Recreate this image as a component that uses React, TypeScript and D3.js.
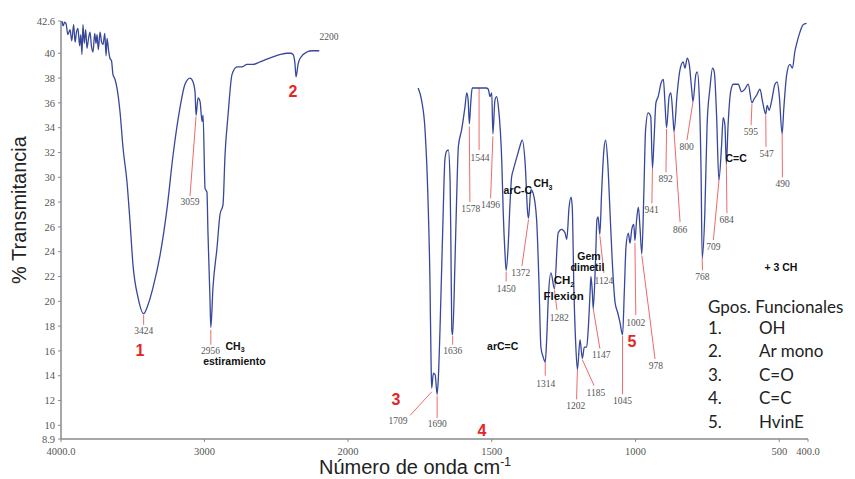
import React from "react";
import * as d3 from "d3";

// ---------- DATA ----------
// Spectrum segment 1 (4000 - 2200 cm-1)
const leftWn = [3993, 3985, 3975, 3965, 3952, 3937, 3925, 3912, 3902, 3892, 3882, 3870, 3862, 3854, 3847, 3838, 3828, 3819, 3808, 3798, 3788, 3777, 3765, 3756, 3749, 3740, 3728, 3717, 3707, 3695, 3686, 3679, 3668, 3659, 3648, 3638, 3624, 3610, 3589, 3568, 3540, 3519, 3498, 3463, 3424, 3394, 3359, 3310, 3261, 3219, 3171, 3136, 3101, 3080, 3066, 3059, 3045, 3031, 3017, 3010, 2996, 2983, 2976, 2962, 2956, 2941, 2913, 2892, 2871, 2857, 2836, 2808, 2773, 2740, 2704, 2662, 2613, 2570, 2523, 2470, 2425, 2400, 2383, 2370, 2362, 2348, 2334, 2286, 2250, 2216, 2200];
const leftT = [42.6, 42.2, 42.5, 42.4, 41.5, 41.9, 41.0, 42.3, 40.9, 41.7, 42.0, 40.6, 41.5, 39.9, 42.3, 40.8, 41.9, 40.4, 41.2, 41.7, 40.6, 40.1, 41.6, 40.8, 41.5, 40.3, 41.7, 40.9, 40.7, 41.6, 39.8, 41.2, 40.2, 39.6, 39.4, 38.3, 37.9, 37.2, 35.3, 32.4, 29.6, 26.4, 22.9, 20.3, 19.0, 19.7, 21.1, 23.7, 27.5, 31.8, 35.6, 37.5, 38.0, 37.7, 36.9, 35.0, 36.4, 36.1, 34.5, 35.0, 29.1, 28.8, 25.6, 20.3, 17.9, 21.1, 24.3, 27.0, 27.8, 31.8, 35.0, 38.3, 38.9, 38.9, 39.1, 39.1, 39.3, 39.5, 39.7, 39.9, 40.0, 40.0, 39.9, 39.2, 38.1, 39.1, 39.6, 40.1, 40.2, 40.2, 40.2];

// Spectrum segment 2 (1756 - 405 cm-1)
const rightWn = [1756, 1744, 1732, 1722, 1715, 1711, 1709, 1703, 1697, 1690, 1686, 1680, 1669, 1663, 1657, 1651, 1645, 1642, 1639, 1636, 1628, 1622, 1616, 1605, 1593, 1587, 1582, 1578, 1573, 1568, 1520, 1512, 1506, 1500, 1496, 1489, 1483, 1477, 1465, 1460, 1454, 1450, 1443, 1437, 1431, 1425, 1413, 1402, 1394, 1384, 1375, 1372, 1364, 1356, 1344, 1336, 1329, 1321, 1314, 1309, 1303, 1294, 1282, 1269, 1257, 1245, 1239, 1231, 1224, 1220, 1214, 1208, 1202, 1193, 1185, 1178, 1170, 1164, 1158, 1155, 1150, 1147, 1139, 1134, 1130, 1124, 1118, 1110, 1104, 1097, 1089, 1081, 1071, 1062, 1054, 1045, 1039, 1033, 1025, 1019, 1013, 1006, 1002, 996, 990, 984, 978, 971, 965, 956, 947, 941, 935, 929, 921, 911, 903, 898, 892, 883, 877, 869, 866, 855, 845, 834, 828, 820, 813, 805, 800, 790, 785, 778, 772, 768, 759, 751, 741, 732, 726, 718, 710, 701, 695, 689, 684, 678, 669, 660, 643, 631, 620, 608, 595, 588, 579, 567, 558, 547, 542, 535, 527, 515, 507, 500, 490, 484, 474, 463, 454, 446, 438, 428, 417, 405];
const rightT = [37.2, 36.2, 33.8, 28.4, 21.7, 15.0, 13.0, 14.2, 14.1, 12.5, 13.7, 17.7, 27.1, 31.4, 32.1, 32.2, 29.8, 24.4, 17.7, 17.3, 23.1, 28.4, 32.5, 33.8, 35.7, 36.8, 36.2, 34.3, 36.0, 37.2, 37.2, 37.1, 36.5, 36.8, 33.5, 36.2, 36.5, 35.7, 31.2, 27.1, 23.9, 22.5, 24.4, 27.6, 30.0, 30.6, 31.6, 32.5, 33.0, 31.2, 27.1, 26.7, 29.0, 28.7, 26.6, 21.7, 16.3, 15.5, 15.1, 16.9, 20.4, 22.3, 21.0, 25.5, 25.8, 25.5, 25.0, 27.6, 28.4, 27.6, 20.7, 16.6, 14.5, 16.9, 15.4, 16.3, 16.3, 17.9, 20.7, 22.0, 20.7, 19.4, 23.3, 26.6, 26.8, 25.4, 28.7, 32.2, 33.0, 31.4, 27.4, 23.3, 19.9, 19.1, 18.3, 17.3, 20.7, 24.4, 25.5, 24.7, 25.8, 26.2, 24.9, 26.6, 27.6, 25.8, 23.8, 28.7, 33.8, 35.2, 34.9, 30.7, 33.3, 36.0, 36.5, 37.6, 37.9, 36.2, 34.0, 36.5, 36.8, 34.6, 33.7, 36.8, 38.7, 39.3, 38.8, 39.6, 39.1, 37.2, 36.1, 38.3, 38.5, 36.4, 30.5, 23.5, 27.0, 34.2, 37.2, 38.8, 38.5, 35.0, 29.8, 32.4, 34.8, 34.2, 31.1, 34.2, 36.9, 37.5, 37.5, 36.9, 37.1, 37.5, 36.0, 36.3, 36.6, 37.1, 36.1, 35.1, 35.8, 35.4, 36.1, 37.5, 37.7, 36.6, 33.5, 35.6, 38.3, 39.1, 38.8, 40.1, 40.9, 41.7, 42.3, 42.4];

// Axis ticks
const yTicks = [42.6, 40, 38, 36, 34, 32, 30, 28, 26, 24, 22, 20, 18, 16, 14, 12, 10, 8.9];
const yTickLabels = ["42.6", "40", "38", "36", "34", "32", "30", "28", "26", "24", "22", "20", "18", "16", "14", "12", "10", "8.9"];
const xTicks = [4000, 3000, 2000, 1500, 1000, 500, 400];
const xTickLabels = ["4000.0", "3000", "2000", "1500", "1000", "500", "400.0"];

// Peak annotations: label, peak wn, peak T, line end wn, line end T, label wn, label T
const peakLabels = ["3424", "3059", "2956", "1709", "1690", "1636", "1578", "1544", "1496", "1450", "1372", "1314", "1282", "1202", "1185", "1147", "1124", "1045", "1002", "978", "941", "892", "866", "800", "768", "709", "684", "595", "547", "490"];
const peakWn = [3424, 3059, 2956, 1709, 1690, 1636, 1578, 1544, 1496, 1450, 1372, 1314, 1282, 1202, 1185, 1147, 1124, 1045, 1002, 978, 941, 892, 866, 800, 768, 709, 684, 595, 547, 490];
const peakT = [18.9, 34.9, 17.7, 12.7, 12.4, 17.2, 34.1, 37.2, 33.3, 22.4, 26.6, 15.1, 20.9, 14.5, 15.3, 19.4, 25.3, 17.2, 24.7, 23.7, 30.7, 33.9, 33.7, 36.1, 23.5, 29.9, 31.1, 35.9, 35.0, 33.5];
const lineEndWn = [3424, 3101, 2956, 1784, 1690, 1636, 1576, 1544, 1504, 1450, 1395, 1314, 1273, 1205, 1144, 1124, 1110, 1045, 999, 932, 943, 894, 845, 821, 767, 729, 682, 598, 546, 489];
const lineEndT = [18.1, 28.5, 16.5, 10.8, 10.6, 16.5, 28.0, 32.2, 28.3, 21.6, 22.85, 14.0, 19.3, 12.1, 13.2, 16.2, 22.3, 12.5, 18.9, 15.35, 27.9, 30.4, 26.4, 33.0, 22.5, 24.95, 27.1, 34.2, 32.45, 30.0];
const labelWn = [3424, 3101, 2958, 1826, 1690, 1636, 1573, 1541, 1504, 1450, 1399, 1312, 1265, 1208, 1138, 1119, 1110, 1045, 999, 929, 944, 895, 845, 822, 767, 729, 683, 599, 544, 488];
const labelT = [17.6, 28.0, 16.05, 10.4, 10.1, 16.0, 27.45, 31.6, 27.8, 21.0, 22.3, 13.4, 18.7, 11.6, 12.6, 15.7, 21.7, 12.0, 18.3, 14.8, 27.4, 29.9, 25.8, 32.45, 21.96, 24.4, 26.6, 33.66, 31.9, 29.5];

// End-of-range label
const endLabel = "2200";
const endLabelWn = 2132;
const endLabelT = 41.3;

// Red group numbers
const groupMarks = ["1", "2", "3", "4", "5"];
const groupMarkWn = [3449, 2383, 1833, 1534, 1012];
const groupMarkT = [16.08, 36.96, 12.13, 9.63, 16.8];

// Bold assignment notes: main text, subscript, wn, T
const noteText = ["CH", "estiramiento", "arC-C", "CH", "arC=C", "CH", "Flexión", "Gem", "dimetil", "C=C", "+ 3 CH"];
const noteSub = ["3", "", "", "3", "", "2", "", "", "", "", ""];
const noteWn = [2787, 2792, 1409, 1322, 1462, 1249, 1250, 1162, 1167, 650, 494];
const noteT = [16.4, 15.2, 28.98, 29.5, 16.34, 21.7, 20.4, 23.65, 22.74, 31.53, 22.74];

// Legend
const legendTitle = "Gpos. Funcionales";
const legendNums = ["1.", "2.", "3.", "4.", "5."];
const legendNames = ["OH", "Ar mono", "C=O", "C=C", "HvinE"];

// ---------- CHART ----------
const W = 855;
const H = 479;
const x = d3.scaleLinear().domain([4000, 2000, 400]).range([61, 348, 808]);
const y = d3.scaleLinear().domain([8.9, 42.6]).range([439, 21]);

const SERIF = "'Liberation Serif', 'DejaVu Serif', serif";
const SANS = "'Liberation Sans', Arial, sans-serif";
const LEG = "Lato, 'Open Sans', sans-serif";
const BLUE = "#37479c";
const RED = "#e3261f";
const RED_LINE = "#ee6b6b";
const GRAY = "#555";

export default function App() {
  const line = d3
    .line<[number, number]>()
    .x((d) => x(d[0]))
    .y((d) => y(d[1]))
    .curve(d3.curveMonotoneX);
  const left = leftWn.map((w, i) => [w, leftT[i]] as [number, number]);
  const right = rightWn.map((w, i) => [w, rightT[i]] as [number, number]);

  return (
    <svg
      width={W}
      height={H}
      style={{ position: "absolute", left: 0, top: 0, background: "#fff" }}
    >
      <rect x={0} y={0} width={W} height={H} fill="#fff" />
      {/* axes */}
      <line x1={x(4000)} x2={x(4000)} y1={y(42.6)} y2={y(8.9)} stroke="#8a8a8a" strokeWidth={1.5} />
      <line x1={x(4000)} x2={x(400)} y1={y(8.9)} y2={y(8.9)} stroke="#8a8a8a" strokeWidth={1.5} />
      {yTicks.map((t, i) => (
        <g key={"yt" + i}>
          <line x1={x(4000) - 3} x2={x(4000)} y1={y(t)} y2={y(t)} stroke="#8a8a8a" strokeWidth={1} />
          <text x={x(4000) - 6} y={y(t)} dy="0.35em" textAnchor="end" fontFamily={SERIF} fontSize={10.5} fill={GRAY}>
            {yTickLabels[i]}
          </text>
        </g>
      ))}
      {xTicks.map((t, i) => (
        <g key={"xt" + i}>
          <line x1={x(t)} x2={x(t)} y1={y(8.9)} y2={y(8.9) + 3} stroke="#8a8a8a" strokeWidth={1} />
          <text x={x(t)} y={y(8.9) + 16} textAnchor="middle" fontFamily={SERIF} fontSize={10.5} fill={GRAY}>
            {xTickLabels[i]}
          </text>
        </g>
      ))}
      {/* axis titles */}
      <text
        transform={`translate(26, ${(y(42.6) + y(8.9)) / 2 - 20}) rotate(-90)`}
        textAnchor="middle"
        fontFamily={SANS}
        fontSize={20}
        fill="#222"
      >
        % Transmitancia
      </text>
      <text x={319} y={474} fontFamily={SANS} fontSize={20} fill="#222">
        Número de onda cm
        <tspan dy={-8} fontSize={12}>-1</tspan>
      </text>

      {/* annotation lines */}
      {peakLabels.map((l, i) => (
        <line
          key={"pl" + i}
          x1={x(peakWn[i])}
          y1={y(peakT[i])}
          x2={x(lineEndWn[i])}
          y2={y(lineEndT[i])}
          stroke={RED_LINE}
          strokeWidth={1}
        />
      ))}

      {/* spectrum */}
      <path d={line(left) || ""} fill="none" stroke={BLUE} strokeWidth={1.3} strokeLinejoin="round" />
      <path d={line(right) || ""} fill="none" stroke={BLUE} strokeWidth={1.3} strokeLinejoin="round" />

      {/* peak labels */}
      {peakLabels.map((l, i) => (
        <text
          key={"pt" + i}
          x={x(labelWn[i])}
          y={y(labelT[i])}
          dy="0.35em"
          textAnchor="middle"
          fontFamily={SERIF}
          fontSize={9.5}
          fill={GRAY}
        >
          {l}
        </text>
      ))}
      <text x={x(endLabelWn)} y={y(endLabelT)} dy="0.35em" textAnchor="middle" fontFamily={SERIF} fontSize={9.5} fill={GRAY}>
        {endLabel}
      </text>

      {/* group numbers */}
      {groupMarks.map((g, i) => (
        <text
          key={"gm" + i}
          x={x(groupMarkWn[i])}
          y={y(groupMarkT[i])}
          dy="0.35em"
          textAnchor="middle"
          fontFamily={SANS}
          fontWeight="bold"
          fontSize={16}
          fill={RED}
        >
          {g}
        </text>
      ))}

      {/* notes */}
      {noteText.map((n, i) => (
        <text
          key={"nt" + i}
          x={x(noteWn[i])}
          y={y(noteT[i])}
          dy="0.35em"
          textAnchor="middle"
          fontFamily={SANS}
          fontWeight="bold"
          fontSize={n === "Flexión" || (n === "CH" && noteSub[i] === "2") ? 11.5 : 10.5}
          fill="#111"
        >
          {n}
          {noteSub[i] ? (
            <tspan dy={2.5} fontSize={7}>
              {noteSub[i]}
            </tspan>
          ) : null}
        </text>
      ))}

      {/* legend */}
      <text x={708} y={313} fontFamily={LEG} fontSize={17} fill="#222">
        {legendTitle}
      </text>
      {legendNums.map((n, i) => (
        <g key={"lg" + i}>
          <text x={708} y={334 + i * 23.4} fontFamily={LEG} fontSize={17} fill="#222">
            {n}
          </text>
          <text x={759} y={334 + i * 23.4} fontFamily={LEG} fontSize={17} fill="#222">
            {legendNames[i]}
          </text>
        </g>
      ))}
    </svg>
  );
}
